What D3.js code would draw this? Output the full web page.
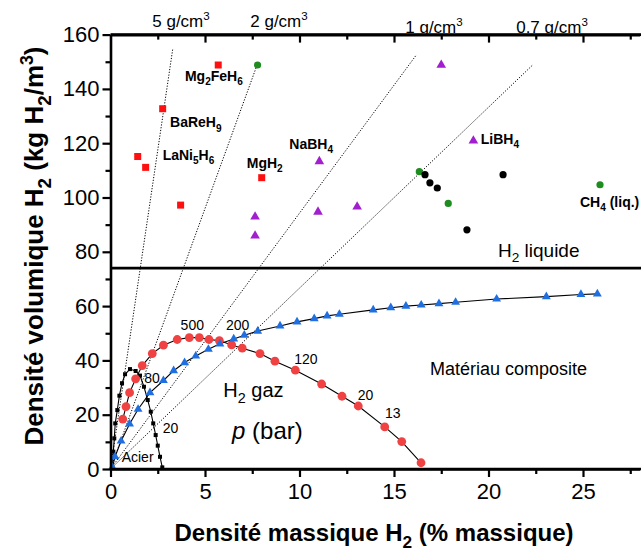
<!DOCTYPE html>
<html>
<head>
<meta charset="utf-8">
<script src="https://cdn.jsdelivr.net/npm/d3@7"></script>
<style>
  body { margin: 0; background: #fff; }
  svg { display: block; font-family: "Liberation Sans", Arial, sans-serif; }
</style>
</head>
<body>
<svg id="chart" width="641" height="554"></svg>
<script>
// courbe Acier (carres noirs)
const steelX = [0.1, 0.15, 0.2, 0.25, 0.36, 0.47, 0.61, 0.77, 1.03, 1.33, 1.56, 1.77, 1.97, 2.13, 2.26, 2.39, 2.50, 2.62, 2.74];
const steelY = [0.6, 6.4, 11.3, 16.8, 21.7, 27.0, 31.6, 34.9, 36.8, 36.1, 34.4, 30.3, 25.4, 21.1, 16.8, 12.5, 8.6, 4.5, 0.6];

// courbe H2 gaz (cercles rouges)
const gasX = [0.65, 0.82, 1.01, 1.33, 1.68, 2.21, 2.80, 3.53, 4.17, 4.70, 5.21, 5.76, 6.41, 6.97, 7.91, 8.70, 9.78, 11.17, 12.25, 13.11, 14.51, 15.41, 16.43];
const gasY = [18.4, 23.0, 28.1, 33.2, 38.1, 42.5, 45.6, 47.7, 48.4, 48.4, 47.7, 47.3, 45.7, 44.5, 42.5, 39.7, 36.4, 31.3, 26.8, 23.2, 15.5, 10.1, 2.3];

// materiau composite (triangles bleus)
const compX = [0.1, 0.24, 0.56, 1.01, 1.46, 2.09, 2.80, 3.34, 3.92, 4.51, 5.18, 5.79, 6.52, 7.08, 7.79, 8.97, 9.87, 10.78, 11.46, 12.11, 13.9, 14.83, 15.63, 16.44, 17.38, 18.26, 20.43, 23.06, 24.89, 25.76];
const compY = [0.6, 4.5, 10.3, 16.6, 22.0, 28.1, 32.6, 36.2, 39.2, 41.6, 44.1, 46.1, 47.9, 49.3, 50.8, 52.7, 54.2, 55.4, 56.4, 57.0, 58.6, 59.4, 60.0, 60.4, 60.9, 61.4, 62.6, 63.5, 64.3, 64.5];

// hydrures (points isoles)
const redSqX = [5.7, 2.76, 1.44, 1.86, 3.71, 8.0];
const redSqY = [148.8, 132.7, 115.1, 111.1, 97.2, 107.3];
const purpleX = [7.65, 7.65, 11.05, 10.98, 13.05, 17.5, 19.2];
const purpleY = [92.9, 85.9, 113.3, 94.7, 96.6, 148.8, 120.9];
const greenX = [7.78, 16.34, 17.87, 25.9];
const greenY = [148.8, 109.5, 97.8, 104.7];
const blackX = [16.64, 16.9, 17.29, 20.77, 18.86];
const blackY = [108.4, 105.4, 103.5, 108.4, 88.1];

// droites de masse volumique (g/cm3)
const densLabels = ["5 g/cm^3", "2 g/cm^3", "1 g/cm^3", "0.7 g/cm^3"];
const densEndX = [3.3, 7.75, 16.15, 22.35];
const densEndY = [155, 148.7, 152.2, 148.9];

const liquidH2 = 74;

const xTicks = [0, 5, 10, 15, 20, 25];
const yTicks = [0, 20, 40, 60, 80, 100, 120, 140, 160];

const svg = d3.select('#chart');
const x = d3.scaleLinear().domain([0, 28]).range([110.5, 639.7]);
const y = d3.scaleLinear().domain([0, 160]).range([469, 34.6]);

// texte avec indices (_) et exposants (^)
function rich(sel, str, size) {
  let parts = [];
  for (let i = 0; i < str.length; i++) {
    const c = str[i];
    if ((c === '_' || c === '^') && i + 1 < str.length) {
      parts.push({t: str[i + 1], k: c});
      i++;
    } else {
      if (parts.length && parts[parts.length - 1].k === null) parts[parts.length - 1].t += c;
      else parts.push({t: c, k: null});
    }
  }
  let shift = 0;
  parts.forEach(p => {
    const ts = sel.append('tspan').text(p.t);
    let target = 0;
    if (p.k === '_') { target = size * 0.3; ts.attr('font-size', size * 0.72); }
    if (p.k === '^') { target = -size * 0.4; ts.attr('font-size', size * 0.68); }
    if (target !== shift) ts.attr('dy', target - shift);
    shift = target;
  });
  return sel;
}

// droites pointillees
const dens = svg.append('g');
densEndX.forEach((ex, i) => {
  dens.append('line')
    .attr('x1', x(0)).attr('y1', y(0))
    .attr('x2', x(ex)).attr('y2', y(densEndY[i]))
    .attr('stroke', '#000').attr('stroke-width', 1)
    .attr('stroke-dasharray', '1.2,1.6');
});

// ligne H2 liquide
svg.append('line')
  .attr('x1', x(0)).attr('x2', 641)
  .attr('y1', y(liquidH2)).attr('y2', y(liquidH2))
  .attr('stroke', '#000').attr('stroke-width', 2.6);

const line = d3.line().x(d => x(d[0])).y(d => y(d[1]));

// courbes
const steel = steelX.map((v, i) => [v, steelY[i]]);
const gas = gasX.map((v, i) => [v, gasY[i]]);
const comp = compX.map((v, i) => [v, compY[i]]);

[steel, gas, comp].forEach(pts => {
  svg.append('path').datum(pts).attr('d', line)
    .attr('fill', 'none').attr('stroke', '#000').attr('stroke-width', 1.1);
});

svg.append('g').selectAll('rect').data(steel).enter().append('rect')
  .attr('x', d => x(d[0]) - 2).attr('y', d => y(d[1]) - 2)
  .attr('width', 4).attr('height', 4).attr('fill', '#000');

svg.append('g').selectAll('circle').data(gas).enter().append('circle')
  .attr('cx', d => x(d[0])).attr('cy', d => y(d[1])).attr('r', 4.4)
  .attr('fill', '#f04242');

const tri = d3.symbol().type(d3.symbolTriangle).size(34);
svg.append('g').selectAll('path').data(comp).enter().append('path')
  .attr('d', tri).attr('transform', d => `translate(${x(d[0])},${y(d[1])})`)
  .attr('fill', '#1f6fe0');

// points isoles
svg.append('g').selectAll('rect').data(redSqX.map((v, i) => [v, redSqY[i]])).enter().append('rect')
  .attr('x', d => x(d[0]) - 3.5).attr('y', d => y(d[1]) - 3.5)
  .attr('width', 7).attr('height', 7).attr('fill', '#ff1010');

svg.append('g').selectAll('path').data(purpleX.map((v, i) => [v, purpleY[i]])).enter().append('path')
  .attr('d', d3.symbol().type(d3.symbolTriangle).size(40))
  .attr('transform', d => `translate(${x(d[0])},${y(d[1])})`)
  .attr('fill', '#a21fcf');

svg.append('g').selectAll('circle').data(greenX.map((v, i) => [v, greenY[i]])).enter().append('circle')
  .attr('cx', d => x(d[0])).attr('cy', d => y(d[1])).attr('r', 3.6).attr('fill', '#1e8c1e');

svg.append('g').selectAll('circle').data(blackX.map((v, i) => [v, blackY[i]])).enter().append('circle')
  .attr('cx', d => x(d[0])).attr('cy', d => y(d[1])).attr('r', 3.6).attr('fill', '#000');

// axes
function styleAxis(g) {
  g.select('.domain').attr('stroke-width', 2.6);
  g.selectAll('.tick line').attr('stroke-width', 2.2);
  g.selectAll('.tick text').attr('font-size', 22).attr('font-family', '"Liberation Sans", Arial, sans-serif').attr('fill', '#000');
}
const minorX = d3.range(2.5, 28, 5);
const minorY = d3.range(10, 160, 20);

svg.append('g').attr('transform', `translate(0,${y(0)})`)
  .call(d3.axisBottom(x).tickValues(minorX).tickSize(5).tickSizeOuter(0).tickFormat(''))
  .call(g => g.select('.domain').remove())
  .call(g => g.selectAll('.tick line').attr('stroke-width', 2.2));
svg.append('g').attr('transform', `translate(0,${y(0)})`)
  .call(d3.axisBottom(x).tickValues(xTicks).tickSize(8).tickSizeOuter(0).tickPadding(6))
  .call(styleAxis);

svg.append('g').attr('transform', `translate(0,${y(160)})`)
  .call(d3.axisTop(x).tickValues(minorX).tickSize(-5).tickSizeOuter(0).tickFormat(''))
  .call(g => g.select('.domain').remove())
  .call(g => g.selectAll('.tick line').attr('stroke-width', 2.2));
svg.append('g').attr('transform', `translate(0,${y(160)})`)
  .call(d3.axisTop(x).tickValues(xTicks.slice(1)).tickSize(-8).tickSizeOuter(0).tickFormat(''))
  .call(styleAxis);

svg.append('g').attr('transform', `translate(${x(0)},0)`)
  .call(d3.axisLeft(y).tickValues(minorY).tickSize(5).tickSizeOuter(0).tickFormat(''))
  .call(g => g.select('.domain').remove())
  .call(g => g.selectAll('.tick line').attr('stroke-width', 2.2));
svg.append('g').attr('transform', `translate(${x(0)},0)`)
  .call(d3.axisLeft(y).tickValues(yTicks).tickSize(8).tickSizeOuter(0).tickPadding(3))
  .call(styleAxis);

// axe du haut prolonge jusqu'au bord
svg.append('line').attr('x1', x(0)).attr('x2', 641).attr('y1', y(160)).attr('y2', y(160))
  .attr('stroke', '#000').attr('stroke-width', 2.6);
svg.append('line').attr('x1', x(0)).attr('x2', 641).attr('y1', y(0)).attr('y2', y(0))
  .attr('stroke', '#000').attr('stroke-width', 2.6);

// titres d'axes
rich(svg.append('text').attr('x', 374).attr('y', 541).attr('text-anchor', 'middle')
  .attr('font-size', 24).attr('font-weight', 'bold'), 'Densité massique H_2 (% massique)', 24);
rich(svg.append('text').attr('transform', 'translate(43,246) rotate(-90)').attr('text-anchor', 'middle')
  .attr('font-size', 26).attr('font-weight', 'bold'), 'Densité volumique H_2 (kg H_2/m^3)', 26);

// etiquettes densites (axe du haut)
const densPos = [[181, 27], [279, 27], [434, 32.5], [552, 32.5]];
densLabels.forEach((t, i) => {
  rich(svg.append('text').attr('x', densPos[i][0]).attr('y', densPos[i][1])
    .attr('text-anchor', 'middle').attr('font-size', 17), t, 17);
});

// etiquettes composes
const compounds = [
  ['Mg_2FeH_6', 3.94, 142.8], ['BaReH_9', 3.15, 125.8], ['LaNi_5H_6', 2.76, 113.9],
  ['MgH_2', 7.21, 110.9], ['NaBH_4', 9.46, 117.9], ['LiBH_4', 19.59, 119.7],
  ['CH_4 (liq.)', 24.84, 96.5]
];
compounds.forEach(c => {
  rich(svg.append('text').attr('x', x(c[1])).attr('y', y(c[2]))
    .attr('font-size', 14).attr('font-weight', 'bold'), c[0], 14);
});

// pressions
const pressures = [['500', 3.71, 51.2], ['200', 6.11, 51.2], ['120', 9.72, 38.7], ['20', 13.08, 25.4],
  ['13', 14.52, 18.7], ['80', 1.79, 31.6], ['20', 2.76, 13.3]];
pressures.forEach(p => {
  svg.append('text').attr('x', x(p[1])).attr('y', y(p[2])).attr('font-size', 14).text(p[0]);
});

// autres textes
svg.append('text').attr('x', x(0.59)).attr('y', y(2.6)).attr('font-size', 14).text('Acier');
rich(svg.append('text').attr('x', x(5.97)).attr('y', y(26.5)).attr('font-size', 20), 'H_2 gaz', 20);
const pb = svg.append('text').attr('x', x(6.43)).attr('y', y(11.2)).attr('font-size', 24);
pb.append('tspan').attr('font-style', 'italic').text('p');
pb.append('tspan').text(' (bar)');
svg.append('text').attr('x', x(16.9)).attr('y', y(34.7)).attr('font-size', 18).text('Matériau composite');
rich(svg.append('text').attr('x', x(20.5)).attr('y', y(78.2)).attr('font-size', 19), 'H_2 liquide', 19);
</script>
</body>
</html>
